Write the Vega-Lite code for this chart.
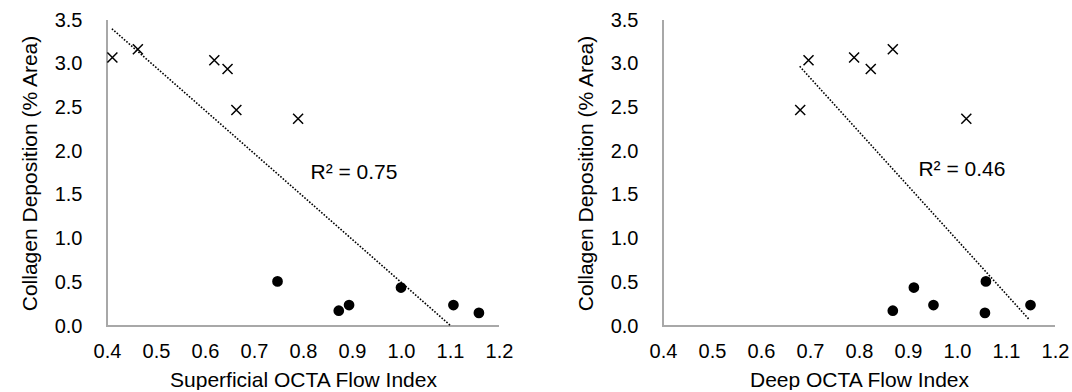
{
  "$schema": "https://vega.github.io/schema/vega-lite/v6.json",
  "background": "white",
  "padding": {"left": 19, "top": 10, "right": 5, "bottom": 0},
  "bounds": "flush",
  "spacing": 164,
  "config": {
    "font": "Liberation Sans",
    "view": {"stroke": null},
    "axis": {
      "domain": false,
      "ticks": false,
      "grid": false,
      "labelFlush": false,
      "labelOverlap": false,
      "labelFont": "Liberation Sans",
      "labelFontSize": 20,
      "labelColor": "#000000",
      "titleFont": "Liberation Sans",
      "titleFontSize": 21,
      "titleFontWeight": "normal",
      "titleColor": "#000000"
    },
    "axisX": {"labelPadding": 15, "titlePadding": 8},
    "axisY": {"labelPadding": 25, "titlePadding": 14}
  },
  "datasets": {
    "subjects": [
      {"id": "A", "group": "high", "collagen": 3.07, "superficial": 0.411, "deep": 0.79},
      {"id": "B", "group": "high", "collagen": 3.165, "superficial": 0.463, "deep": 0.869},
      {"id": "C", "group": "high", "collagen": 3.04, "superficial": 0.619, "deep": 0.697},
      {"id": "D", "group": "high", "collagen": 2.94, "superficial": 0.646, "deep": 0.824},
      {"id": "E", "group": "high", "collagen": 2.47, "superficial": 0.664, "deep": 0.68},
      {"id": "F", "group": "high", "collagen": 2.37, "superficial": 0.79, "deep": 1.019},
      {"id": "G", "group": "low", "collagen": 0.51, "superficial": 0.748, "deep": 1.059},
      {"id": "H", "group": "low", "collagen": 0.175, "superficial": 0.873, "deep": 0.869},
      {"id": "I", "group": "low", "collagen": 0.24, "superficial": 0.894, "deep": 0.952},
      {"id": "J", "group": "low", "collagen": 0.44, "superficial": 1.0, "deep": 0.912},
      {"id": "K", "group": "low", "collagen": 0.24, "superficial": 1.107, "deep": 1.15},
      {"id": "L", "group": "low", "collagen": 0.15, "superficial": 1.159, "deep": 1.057}
    ],
    "frame": [
      {"step": 1, "x": 0.4, "y": 3.5},
      {"step": 2, "x": 0.4, "y": 0},
      {"step": 3, "x": 1.2, "y": 0}
    ],
    "trend_sup": [{"x": 0.41, "y": 3.4}, {"x": 1.102, "y": 0.0}],
    "trend_deep": [{"x": 0.679, "y": 2.97}, {"x": 1.148, "y": 0.07}],
    "r2_sup": [{"x": 0.904, "y": 1.75, "label": "R² = 0.75"}],
    "r2_deep": [{"x": 1.01, "y": 1.78, "label": "R² = 0.46"}]
  },
  "hconcat": [
    {
      "width": 392,
      "height": 306,
      "layer": [
        {
          "data": {"name": "frame"},
          "mark": {"type": "line", "stroke": "#a8a8a8", "strokeWidth": 2, "opacity": 1},
          "encoding": {
            "x": {"field": "x", "type": "quantitative", "scale": {"domain": [0.4, 1.2], "nice": false, "zero": false}, "axis": {"values": [0.4, 0.5, 0.6, 0.7, 0.8, 0.9, 1.0, 1.1, 1.2], "format": ".1f"}, "title": "Superficial OCTA Flow Index"},
            "y": {"field": "y", "type": "quantitative", "scale": {"domain": [0, 3.5], "nice": false}, "axis": {"values": [0, 0.5, 1, 1.5, 2, 2.5, 3, 3.5], "format": ".1f"}, "title": "Collagen Deposition (% Area)"},
            "order": {"field": "step", "type": "quantitative"}
          }
        },
        {
          "data": {"name": "trend_sup"},
          "mark": {"type": "line", "color": "#000000", "strokeWidth": 1.6, "strokeDash": [1.6, 1.6]},
          "encoding": {
            "x": {"field": "x", "type": "quantitative", "title": "Superficial OCTA Flow Index"},
            "y": {"field": "y", "type": "quantitative", "title": "Collagen Deposition (% Area)"}
          }
        },
        {
          "data": {"name": "subjects"},
          "transform": [{"filter": "datum.group === 'high'"}],
          "mark": {"type": "point", "shape": "M-1,-1L1,1M-1,1L1,-1", "filled": false, "color": "#000000", "strokeWidth": 1.5, "size": 100, "opacity": 1},
          "encoding": {
            "x": {"field": "superficial", "type": "quantitative", "title": "Superficial OCTA Flow Index"},
            "y": {"field": "collagen", "type": "quantitative", "title": "Collagen Deposition (% Area)"}
          }
        },
        {
          "data": {"name": "subjects"},
          "transform": [{"filter": "datum.group === 'low'"}],
          "mark": {"type": "circle", "color": "#000000", "size": 115, "opacity": 1},
          "encoding": {
            "x": {"field": "superficial", "type": "quantitative", "title": "Superficial OCTA Flow Index"},
            "y": {"field": "collagen", "type": "quantitative", "title": "Collagen Deposition (% Area)"}
          }
        },
        {
          "data": {"name": "r2_sup"},
          "mark": {"type": "text", "fontSize": 21, "color": "#000000", "align": "center", "baseline": "middle"},
          "encoding": {
            "x": {"field": "x", "type": "quantitative", "title": "Superficial OCTA Flow Index"},
            "y": {"field": "y", "type": "quantitative", "title": "Collagen Deposition (% Area)"},
            "text": {"field": "label"}
          }
        }
      ]
    },
    {
      "width": 392,
      "height": 306,
      "layer": [
        {
          "data": {"name": "frame"},
          "mark": {"type": "line", "stroke": "#a8a8a8", "strokeWidth": 2, "opacity": 1},
          "encoding": {
            "x": {"field": "x", "type": "quantitative", "scale": {"domain": [0.4, 1.2], "nice": false, "zero": false}, "axis": {"values": [0.4, 0.5, 0.6, 0.7, 0.8, 0.9, 1.0, 1.1, 1.2], "format": ".1f"}, "title": "Deep OCTA Flow Index"},
            "y": {"field": "y", "type": "quantitative", "scale": {"domain": [0, 3.5], "nice": false}, "axis": {"values": [0, 0.5, 1, 1.5, 2, 2.5, 3, 3.5], "format": ".1f"}, "title": "Collagen Deposition (% Area)"},
            "order": {"field": "step", "type": "quantitative"}
          }
        },
        {
          "data": {"name": "trend_deep"},
          "mark": {"type": "line", "color": "#000000", "strokeWidth": 1.6, "strokeDash": [1.6, 1.6]},
          "encoding": {
            "x": {"field": "x", "type": "quantitative", "title": "Deep OCTA Flow Index"},
            "y": {"field": "y", "type": "quantitative", "title": "Collagen Deposition (% Area)"}
          }
        },
        {
          "data": {"name": "subjects"},
          "transform": [{"filter": "datum.group === 'high'"}],
          "mark": {"type": "point", "shape": "M-1,-1L1,1M-1,1L1,-1", "filled": false, "color": "#000000", "strokeWidth": 1.5, "size": 100, "opacity": 1},
          "encoding": {
            "x": {"field": "deep", "type": "quantitative", "title": "Deep OCTA Flow Index"},
            "y": {"field": "collagen", "type": "quantitative", "title": "Collagen Deposition (% Area)"}
          }
        },
        {
          "data": {"name": "subjects"},
          "transform": [{"filter": "datum.group === 'low'"}],
          "mark": {"type": "circle", "color": "#000000", "size": 115, "opacity": 1},
          "encoding": {
            "x": {"field": "deep", "type": "quantitative", "title": "Deep OCTA Flow Index"},
            "y": {"field": "collagen", "type": "quantitative", "title": "Collagen Deposition (% Area)"}
          }
        },
        {
          "data": {"name": "r2_deep"},
          "mark": {"type": "text", "fontSize": 21, "color": "#000000", "align": "center", "baseline": "middle"},
          "encoding": {
            "x": {"field": "x", "type": "quantitative", "title": "Deep OCTA Flow Index"},
            "y": {"field": "y", "type": "quantitative", "title": "Collagen Deposition (% Area)"},
            "text": {"field": "label"}
          }
        }
      ]
    }
  ]
}
